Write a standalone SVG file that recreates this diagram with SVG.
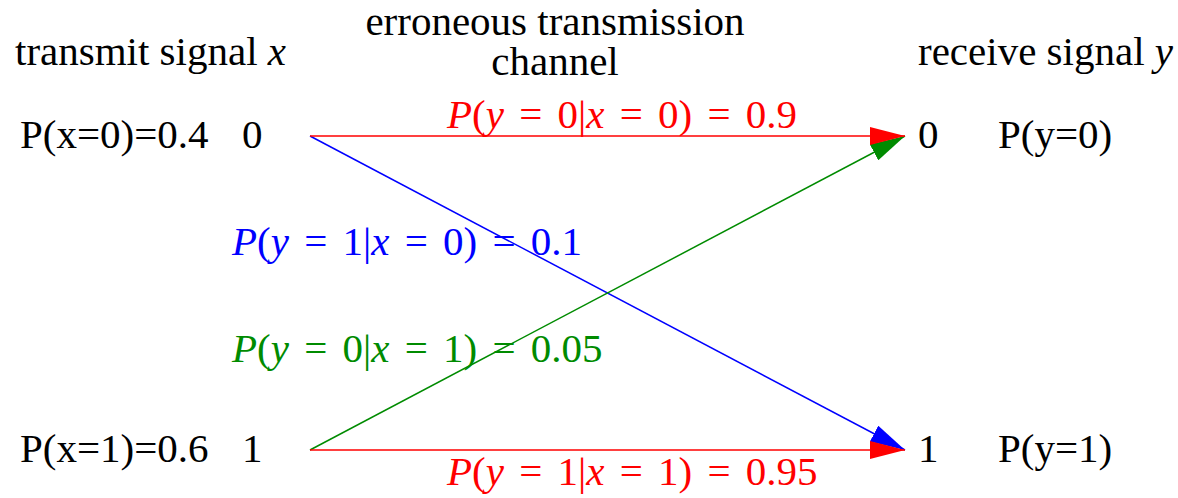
<svg xmlns="http://www.w3.org/2000/svg" width="1178" height="498" viewBox="0 0 1178 498">
<style>
text{font-size:41px;fill:#000}
.i{font-style:italic}
.r{fill:#ff0000}.b{fill:#0000ff}.g{fill:#008b00}
.lbl{word-spacing:5px}
line{stroke-width:1.5;fill:none}
</style>
<defs>
<marker id="ar" viewBox="0 0 35 18" refX="35" refY="9" markerWidth="35" markerHeight="18" markerUnits="userSpaceOnUse" orient="auto"><path d="M0,0 L35,9 L0,18 z" fill="#ff0000"/></marker>
<marker id="ab" viewBox="0 0 35 18" refX="35" refY="9" markerWidth="35" markerHeight="18" markerUnits="userSpaceOnUse" orient="auto"><path d="M0,0 L35,9 L0,18 z" fill="#0000ff"/></marker>
<marker id="ag" viewBox="0 0 35 18" refX="35" refY="9" markerWidth="35" markerHeight="18" markerUnits="userSpaceOnUse" orient="auto"><path d="M0,0 L35,9 L0,18 z" fill="#008b00"/></marker>
</defs>
<g id="headers">
<text font-family="Liberation Serif, serif" x="15" y="65">transmit signal <tspan class="i">x</tspan></text>
<text font-family="Liberation Serif, serif" x="555" y="35" text-anchor="middle">erroneous transmission</text>
<text font-family="Liberation Serif, serif" x="555" y="75" text-anchor="middle">channel</text>
<text font-family="Liberation Serif, serif" x="918" y="65">receive signal <tspan class="i">y</tspan></text>
</g>
<g id="connectors">
<line x1="310" y1="136" x2="905" y2="450" stroke="#0000ff" marker-end="url(#ab)"/>
<line x1="310" y1="450" x2="905" y2="136" stroke="#008b00" marker-end="url(#ag)"/>
<line x1="310" y1="136" x2="905" y2="136" stroke="#ff0000" marker-end="url(#ar)"/>
<line x1="310" y1="450" x2="905" y2="450" stroke="#ff0000" marker-end="url(#ar)"/>
</g>
<g id="x0"><text font-family="Liberation Serif, serif" x="20" y="148">P(x=0)=0.4</text><text font-family="Liberation Serif, serif" x="242" y="148">0</text></g>
<g id="x1"><text font-family="Liberation Serif, serif" x="20" y="462">P(x=1)=0.6</text><text font-family="Liberation Serif, serif" x="242" y="462">1</text></g>
<g id="y0"><text font-family="Liberation Serif, serif" x="918" y="148">0</text><text font-family="Liberation Serif, serif" x="998" y="148">P(y=0)</text></g>
<g id="y1"><text font-family="Liberation Serif, serif" x="918" y="462">1</text><text font-family="Liberation Serif, serif" x="998" y="462">P(y=1)</text></g>
<g id="labels">
<text font-family="Liberation Serif, serif" class="r lbl" x="447" y="128" xml:space="preserve"><tspan class="i">P</tspan>(<tspan class="i">y</tspan> = 0|<tspan class="i">x</tspan> = 0) = 0.9</text>
<text font-family="Liberation Serif, serif" class="b lbl" x="232" y="255" xml:space="preserve"><tspan class="i">P</tspan>(<tspan class="i">y</tspan> = 1|<tspan class="i">x</tspan> = 0) = 0.1</text>
<text font-family="Liberation Serif, serif" class="g lbl" x="232" y="362" xml:space="preserve"><tspan class="i">P</tspan>(<tspan class="i">y</tspan> = 0|<tspan class="i">x</tspan> = 1) = 0.05</text>
<text font-family="Liberation Serif, serif" class="r lbl" x="447" y="485" xml:space="preserve"><tspan class="i">P</tspan>(<tspan class="i">y</tspan> = 1|<tspan class="i">x</tspan> = 1) = 0.95</text>
</g>
</svg>
